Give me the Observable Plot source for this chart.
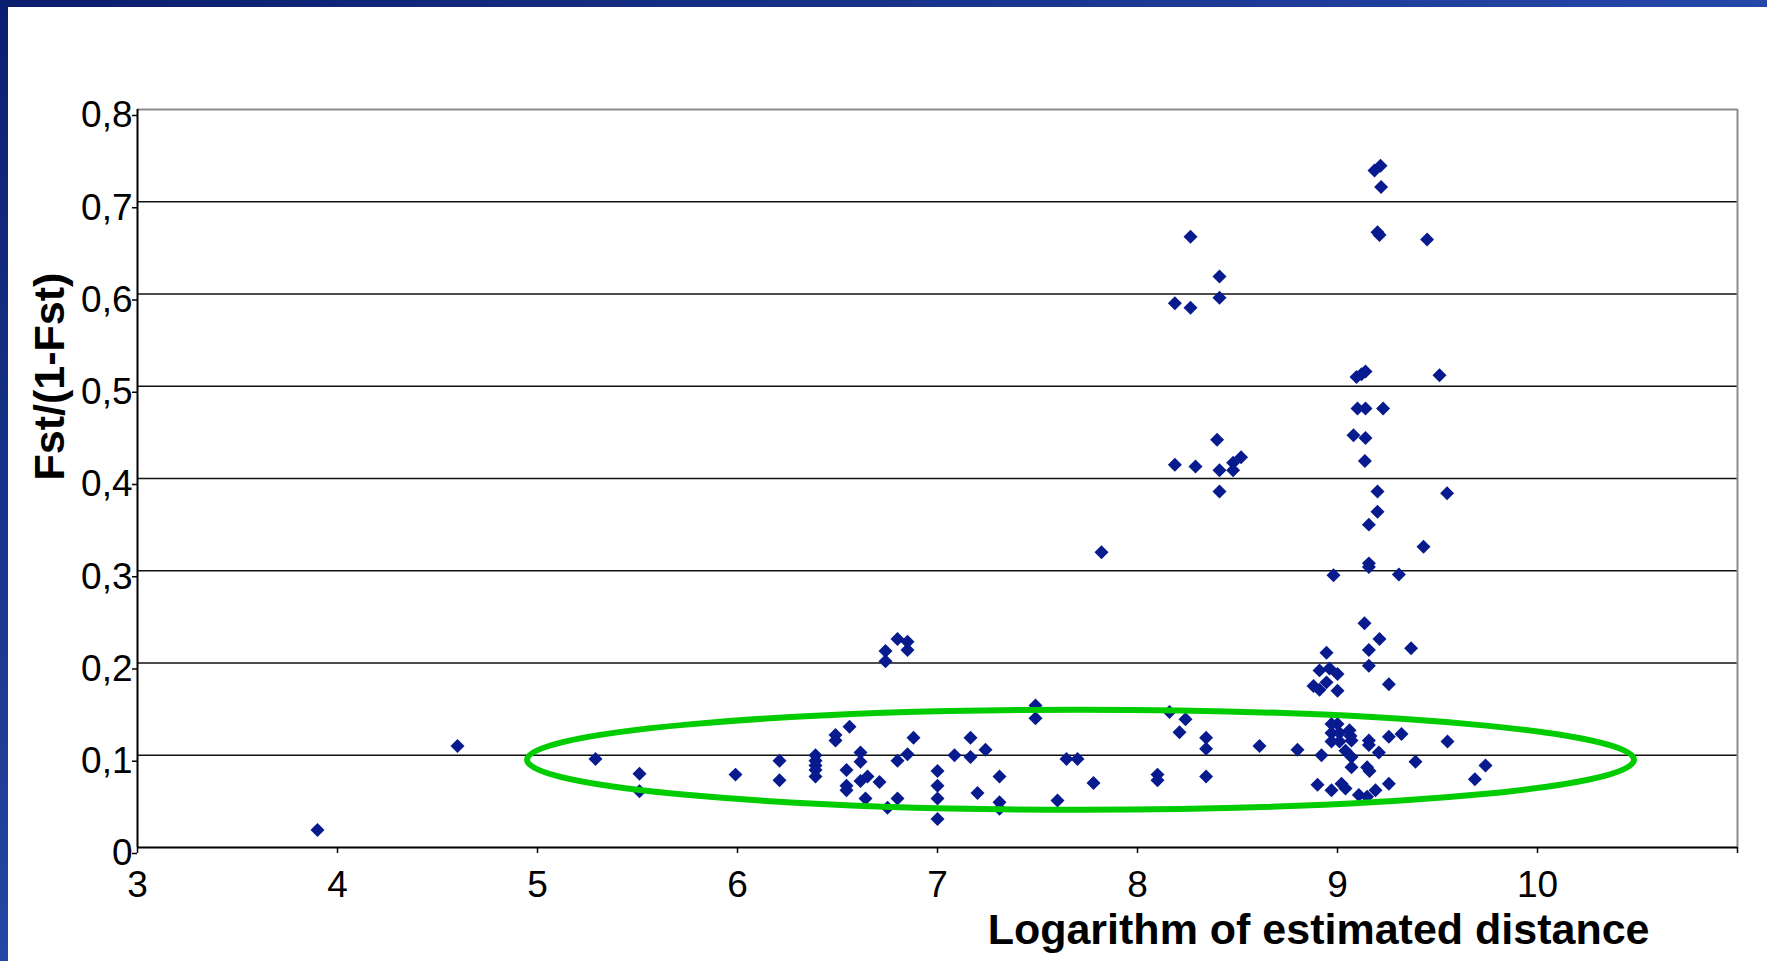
<!DOCTYPE html>
<html>
<head>
<meta charset="utf-8">
<script src="https://cdn.jsdelivr.net/npm/d3@7"></script>
<script src="https://cdn.jsdelivr.net/npm/@observablehq/plot@0.6"></script>
<style>
  html, body { margin: 0; padding: 0; background: #fff; overflow: hidden; width: 1767px; height: 961px; }
  #chart { position: absolute; left: 0; top: 0; }
  #topband { position: absolute; left: 0; top: 0; width: 1767px; height: 7px; background: linear-gradient(to right, #0b1d6c, #2548a8); z-index: 2; }
  #leftband { position: absolute; left: 0; top: 0; width: 8px; height: 961px; background: linear-gradient(to bottom, #0b1f70, #2546a3); z-index: 2; }
</style>
</head>
<body>
<div id="topband"></div>
<div id="leftband"></div>
<div id="chart"></div>
<script>
// Logarithm of estimated distance (x) and Fst/(1-Fst) (y)
const logDistance = [
  3.90, 4.60, 5.29, 5.51, 5.51, 5.99, 6.21, 6.21,
  6.39, 6.39, 6.39, 6.39, 6.39, 6.49, 6.49, 6.56, 6.545, 6.545, 6.545,
  6.615, 6.615, 6.615, 6.65, 6.71, 6.64, 6.75, 6.80, 6.85, 6.88, 6.80,
  6.80, 6.85, 6.74, 6.85, 6.74,
  7.00, 7.00, 7.00, 7.00, 7.085, 7.165, 7.165, 7.24, 7.20, 7.31, 7.31, 7.31,
  7.49, 7.49, 7.60, 7.645, 7.70, 7.78, 7.82,
  8.10, 8.10, 8.16, 8.24, 8.21, 8.343, 8.343, 8.343, 8.61, 8.80,
  8.265, 8.41, 8.41, 8.187, 8.265, 8.398, 8.187, 8.29, 8.41, 8.478, 8.478, 8.518, 8.41,
  9.215, 9.185, 9.218, 9.20, 9.21, 9.448, 9.14, 9.095, 9.12, 9.51,
  9.10, 9.14, 9.228, 9.08, 9.14, 9.137, 9.20, 9.548, 9.20, 9.157, 9.43, 9.157, 9.157, 8.98, 9.307,
  9.135, 9.21, 9.157, 9.368, 8.945, 9.157, 8.91, 8.96, 9.00, 8.945, 8.88, 8.91, 9.00, 9.257,
  8.97, 9.00, 8.97, 9.01, 8.97, 9.01, 9.06, 9.065, 9.07, 9.04, 9.07, 9.07, 9.148, 9.16,
  9.157, 9.157, 9.207, 9.257, 9.32, 9.55, 9.39, 8.92, 8.90, 8.97, 9.02, 9.04,
  9.107, 9.148, 9.19, 9.257, 9.74, 9.687
];
const fstRatio = [
  0.019, 0.110, 0.096, 0.080, 0.061, 0.079, 0.094, 0.073,
  0.100, 0.094, 0.089, 0.084, 0.077, 0.122, 0.116, 0.131, 0.084, 0.067, 0.062,
  0.103, 0.093, 0.072, 0.077, 0.071, 0.053, 0.043, 0.094, 0.101, 0.119, 0.053,
  0.226, 0.223, 0.213, 0.214, 0.202,
  0.083, 0.067, 0.053, 0.031, 0.100, 0.119, 0.098, 0.106, 0.059, 0.077, 0.049, 0.042,
  0.154, 0.140, 0.051, 0.096, 0.096, 0.070, 0.320,
  0.079, 0.073, 0.147, 0.139, 0.125, 0.119, 0.107, 0.077, 0.110, 0.106,
  0.662, 0.619, 0.596, 0.590, 0.585, 0.442, 0.415, 0.413, 0.409, 0.417, 0.409, 0.423, 0.386,
  0.739, 0.734, 0.716, 0.667, 0.664, 0.659, 0.516, 0.510, 0.513, 0.512,
  0.476, 0.476, 0.476, 0.447, 0.444, 0.419, 0.386, 0.384, 0.364, 0.350, 0.326, 0.308, 0.304, 0.295, 0.296,
  0.243, 0.226, 0.214, 0.216, 0.211, 0.197, 0.192, 0.194, 0.188, 0.179, 0.175, 0.171, 0.170, 0.177,
  0.134, 0.134, 0.124, 0.124, 0.115, 0.115, 0.127, 0.121, 0.116, 0.105, 0.098, 0.087, 0.087, 0.083,
  0.116, 0.111, 0.103, 0.120, 0.123, 0.115, 0.093, 0.100, 0.068, 0.062, 0.069, 0.064,
  0.057, 0.055, 0.062, 0.069, 0.089, 0.074
];
const xTicks = [3, 4, 5, 6, 7, 8, 9, 10, 11];
const xTickLabels = ["3", "4", "5", "6", "7", "8", "9", "10", ""];
const yTicks = [0, 0.1, 0.2, 0.3, 0.4, 0.5, 0.6, 0.7, 0.8];
const yTickLabels = ["0", "0,1", "0,2", "0,3", "0,4", "0,5", "0,6", "0,7", "0,8"];
const gridValues = [0.1, 0.2, 0.3, 0.4, 0.5, 0.6, 0.7];
const xTitle = "Logarithm of estimated distance";
const yTitle = "Fst/(1-Fst)";
// highlighted group: centre and radii of the green ring, in data units
const ringCenter = [7.7175, 0.0946];
const ringRadius = [2.7675, 0.0542];

const points = logDistance.map((x, i) => ({x, y: fstRatio[i]}));

function ringMark(index, scales) {
  const {x, y} = scales;
  const el = document.createElementNS("http://www.w3.org/2000/svg", "ellipse");
  const cx = x(ringCenter[0]), cy = y(ringCenter[1]);
  el.setAttribute("cx", cx);
  el.setAttribute("cy", cy);
  el.setAttribute("rx", Math.abs(x(ringCenter[0] + ringRadius[0]) - cx));
  el.setAttribute("ry", Math.abs(y(ringCenter[1] + ringRadius[1]) - cy));
  el.setAttribute("fill", "none");
  el.setAttribute("stroke", "#00cc00");
  el.setAttribute("stroke-width", 6);
  return el;
}

const font = "'Liberation Sans', Arial, Helvetica, sans-serif";

const chart = Plot.plot({
  width: 1767,
  height: 961,
  marginLeft: 137,
  marginRight: 30,
  marginTop: 109,
  marginBottom: 114,
  x: {domain: [3, 11]},
  y: {domain: [0, 0.8]},
  style: {fontFamily: font, background: "transparent", color: "#000", overflow: "visible"},
  marks: [
    Plot.ruleY(gridValues, {stroke: "#111", strokeWidth: 1.7}),
    Plot.ruleY([0.8], {stroke: "#8c8c8c", strokeWidth: 2}),
    Plot.ruleX([11], {stroke: "#8c8c8c", strokeWidth: 2}),
    Plot.ruleX([3], {stroke: "#000", strokeWidth: 2}),
    Plot.ruleY([0], {stroke: "#000", strokeWidth: 2.2}),
    Plot.axisX({
      ticks: xTicks,
      tickFormat: (d) => xTickLabels[xTicks.indexOf(d)],
      tickSize: 6, tickPadding: 17, fontSize: 37, label: null, stroke: "#000", strokeWidth: 1.5
    }),
    Plot.axisY({
      ticks: yTicks,
      tickFormat: d => yTickLabels[yTicks.findIndex(t => Math.abs(t - d) < 1e-9)],
      tickSize: 5, tickPadding: 0, fontSize: 37, label: null, stroke: "#000", strokeWidth: 1.5, dy: 6
    }),
    Plot.dot(points, {x: "x", y: "y", symbol: "diamond2", r: 6.3, fill: "#071a8e", stroke: "none"}),
    ringMark,
    Plot.text([xTitle], {
      frameAnchor: "bottom-right", textAnchor: "end", lineAnchor: "bottom",
      dx: -88, dy: 96, fontSize: 43, fontWeight: "bold", fill: "#000"
    }),
    Plot.text([yTitle], {
      frameAnchor: "left", textAnchor: "middle", lineAnchor: "bottom", rotate: -90,
      dx: -74, dy: -102, fontSize: 43, fontWeight: "bold", fill: "#000"
    })
  ]
});
document.getElementById("chart").appendChild(chart);
</script>
</body>
</html>
